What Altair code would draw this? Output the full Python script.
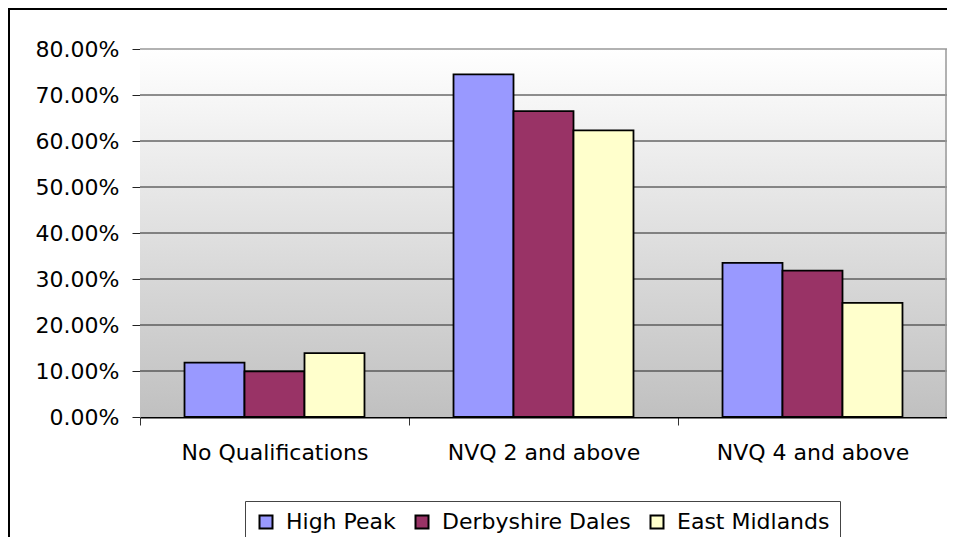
import altair as alt
import pandas as pd

categories = ["No Qualifications", "NVQ 2 and above", "NVQ 4 and above"]
series = ["High Peak", "Derbyshire Dales", "East Midlands"]
high_peak = [0.118, 0.745, 0.335]
derbyshire_dales = [0.099, 0.665, 0.318]
east_midlands = [0.139, 0.623, 0.248]
colors = ["#9999ff", "#993366", "#ffffcc"]
y_ticks = [0, 0.1, 0.2, 0.3, 0.4, 0.5, 0.6, 0.7, 0.8]
grid_values = [0.1, 0.2, 0.3, 0.4, 0.5, 0.6, 0.7]

rows = []
for name, vals in zip(series, [high_peak, derbyshire_dales, east_midlands]):
    for c, v in zip(categories, vals):
        rows.append({"category": c, "series": name, "value": v})
df = pd.DataFrame(rows)

W, H = 807, 368
FONT = "DejaVu Sans"
FS = 22

yscale = alt.Scale(domain=[0, 0.8], nice=False)
yaxis = alt.Axis(title=None, values=y_ticks, format=".2%", tickSize=8,
                 labelPadding=13, labelFont=FONT, labelFontSize=FS,
                 labelColor="black", domainColor="#888888",
                 tickColor="#222222", grid=False)

bg = alt.Chart(pd.DataFrame({"a": [0]})).mark_rect(
    fill=alt.Gradient(
        gradient="linear", x1=0, y1=0, x2=0, y2=1,
        stops=[alt.GradientStop(offset=0, color="#ffffff"),
               alt.GradientStop(offset=1, color="#c0c0c0")],
    )
).encode(x=alt.value(0), x2=alt.value(W), y=alt.value(0), y2=alt.value(H))

grid = alt.Chart(pd.DataFrame({"g": grid_values})).mark_rule(
    color="#222222", strokeWidth=1
).encode(y=alt.Y("g:Q", scale=yscale, axis=yaxis))

bars = alt.Chart(df).mark_bar(stroke="black", strokeWidth=1.8).encode(
    x=alt.X("category:N", sort=categories,
            scale=alt.Scale(paddingInner=0, paddingOuter=0),
            axis=alt.Axis(title=None, labelAngle=0, tickBand="extent", tickSize=8,
                          labelPadding=17, labelFont=FONT, labelFontSize=FS,
                          labelLimit=0,
                          labelColor="black", domainColor="black", domainWidth=2,
                          tickColor="#333333", grid=False)),
    xOffset=alt.XOffset("series:N", sort=series,
                        scale=alt.Scale(paddingInner=0, paddingOuter=0.742)),
    y=alt.Y("value:Q", scale=yscale, axis=yaxis),
    color=alt.Color("series:N", sort=series,
                    scale=alt.Scale(domain=series, range=colors),
                    legend=alt.Legend(title=None, orient="none", legendX=105, legendY=452,
                                      direction="horizontal", symbolType="square",
                                      symbolSize=169, symbolStrokeColor="black",
                                      symbolStrokeWidth=2, labelFont=FONT,
                                      labelFontSize=FS, labelColor="black",
                                      labelLimit=0,
                                      labelOffset=9, columnPadding=15, padding=10,
                                      strokeColor="#444444", fillColor="white")),
)

one = pd.DataFrame({"a": [0]})
plot_top = alt.Chart(one).mark_rule(color="#999999", strokeWidth=1.5).encode(
    x=alt.value(0), x2=alt.value(W), y=alt.value(0))
plot_right = alt.Chart(one).mark_rule(color="#999999", strokeWidth=1.5).encode(
    x=alt.value(W - 1), y=alt.value(0), y2=alt.value(H))
left_border = alt.Chart(one).mark_rule(color="black", strokeWidth=2).encode(
    x=alt.value(-131), y=alt.value(-41), y2=alt.value(500))
top_border = alt.Chart(one).mark_rule(color="black", strokeWidth=2).encode(
    x=alt.value(-132), x2=alt.value(W), y=alt.value(-40))

chart = alt.layer(bg, grid, bars, plot_top, plot_right, left_border, top_border).properties(
    width=W, height=H,
    autosize=alt.AutoSizeParams(type="none"),
    padding={"left": 132, "top": 41, "right": 0, "bottom": 120},
).configure_view(strokeWidth=0).configure(background="white")

chart.save("out.html", embed_options={"renderer": "svg", "actions": False})
